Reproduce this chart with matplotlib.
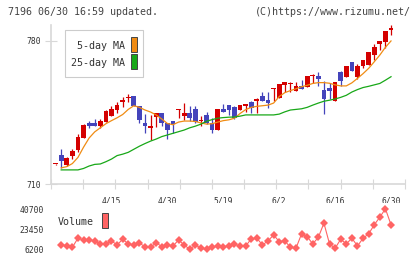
import numpy as np
import matplotlib
matplotlib.use("Agg")
import matplotlib.pyplot as plt
from matplotlib.patches import Rectangle

# ---- data ----
opens = [719.6, 724.2, 719.3, 723.7, 726.6, 732.7, 739.7, 739.7, 738.4, 740.5,
         743.4, 746.2, 750.0, 752.0, 753.1, 748.3, 739.7, 737.6, 742.7, 744.6,
         739.7, 740.8, 746.3, 743.4, 744.6, 746.7, 740.6, 743.8, 739.7, 736.4,
         746.7, 748.7, 747.7, 746.2, 748.4, 750.3, 750.8, 753.1, 751.1, 756.5,
         752.0, 758.6, 758.8, 755.7, 758.0, 757.6, 762.7, 762.9, 756.0, 757.0,
         750.8, 765.0, 762.5, 769.7, 762.5, 767.8, 768.3, 773.1, 778.5, 779.7,
         785.5]
closes = [719.9, 721.3, 722.9, 726.2, 733.2, 738.9, 738.4, 738.4, 740.8, 745.7,
          746.7, 748.7, 751.1, 752.5, 748.3, 741.3, 738.4, 738.0, 744.6, 739.7,
          736.4, 739.2, 746.6, 744.6, 742.2, 740.5, 741.0, 739.7, 736.4, 746.7,
          745.4, 746.2, 742.5, 748.7, 748.7, 747.4, 751.1, 750.8, 749.5, 756.8,
          759.0, 759.9, 759.1, 758.0, 756.7, 762.9, 763.0, 761.4, 751.6, 755.7,
          759.9, 760.6, 767.8, 765.5, 767.8, 770.7, 774.5, 777.2, 780.0, 784.9,
          785.8]
highs = [720.0, 727.1, 723.2, 727.1, 734.7, 739.2, 741.0, 742.0, 742.0, 746.3,
         748.3, 750.2, 752.8, 753.9, 753.2, 748.4, 744.1, 743.8, 744.8, 744.8,
         740.0, 741.0, 746.8, 749.4, 748.3, 748.0, 743.1, 745.0, 742.1, 746.8,
         749.0, 748.8, 748.0, 748.8, 748.8, 750.4, 752.1, 755.0, 755.0, 756.9,
         759.1, 760.0, 760.0, 759.9, 760.9, 763.0, 763.8, 764.7, 760.6, 759.3,
         760.0, 765.1, 767.9, 769.8, 768.8, 770.8, 774.6, 778.5, 780.1, 785.0,
         788.0]
lows = [719.5, 717.7, 719.0, 722.4, 725.9, 732.6, 737.4, 738.2, 737.5, 740.4,
        743.2, 744.5, 747.5, 750.0, 748.2, 739.7, 734.8, 731.5, 738.0, 738.2,
        731.9, 735.1, 742.5, 741.3, 741.0, 740.0, 738.2, 739.4, 734.8, 736.3,
        745.3, 744.0, 741.7, 746.1, 745.4, 744.6, 744.6, 750.7, 747.4, 750.8,
        751.9, 755.0, 755.0, 755.6, 756.6, 757.5, 759.3, 758.0, 744.3, 751.6,
        750.7, 758.0, 762.4, 765.4, 761.5, 766.6, 768.2, 770.6, 775.5, 776.5,
        782.9]

ma5 = [np.nan, 717.9, 718.5, 720.0, 723.0, 728.0, 732.5, 735.5, 737.5, 739.5,
       741.0, 742.4, 744.0, 746.5, 748.3, 747.5, 746.2, 745.2, 743.8, 741.8,
       739.6, 739.0, 740.3, 740.8, 740.8, 740.6, 739.9, 739.3, 739.5, 740.3,
       741.0, 741.4, 742.2, 744.5, 746.4, 747.5, 748.0, 748.3, 748.6, 749.6,
       752.8, 754.7, 755.7, 756.6, 757.6, 758.3, 759.2, 759.6, 759.6, 759.3,
       758.5, 758.0, 758.0, 759.5, 761.7, 764.0, 766.6, 769.8, 773.1, 776.9,
       780.0]
ma25 = [np.nan, 716.9, 716.9, 716.9, 716.9, 717.6, 718.8, 719.6, 719.8, 720.9,
        722.2, 723.9, 724.6, 725.5, 727.0, 728.5, 729.8, 731.0, 732.0, 733.2,
        734.0, 734.8, 735.6, 736.4, 737.5, 738.3, 739.3, 740.7, 741.5, 742.2,
        742.5, 742.7, 742.8, 743.2, 743.8, 743.8, 743.8, 743.8, 743.8, 743.8,
        744.2, 745.3, 746.2, 746.5, 746.8, 747.5, 748.6, 749.6, 750.5, 751.0,
        751.6, 752.4, 753.4, 755.0, 756.2, 757.2, 757.8, 758.5, 759.2, 760.8,
        762.5]

volume = [np.nan, 9900, 9300, 7900, 15700, 14200, 14200, 13400, 10800, 10800,
          13400, 9900, 14800, 10800, 9900, 11400, 8400, 7900, 11900, 8400,
          9900, 9000, 14200, 9900, 6200, 9900, 7100, 6200, 7900, 9000,
          8400, 9000, 10500, 9000, 9000, 15100, 15700, 9900, 13400, 18500,
          12800, 13400, 7900, 7100, 19400, 17100, 10800, 16500, 28600, 10800,
          7100, 14800, 10800, 15700, 9000, 15700, 19400, 27200, 33800, 40900,
          27200]

date_pos = [10, 20, 30, 40, 50, 60]
date_labels = ["4/15", "4/30", "5/19", "6/2", "6/16", "6/30"]
price_ticks = [710, 780]
vol_ticks = [6200, 23450, 40700]

# ---- style ----
W, H = 420, 259
RED = "#d40000"
BLUE = "#4444bb"
ORANGE = "#f08c14"
GREEN = "#18a818"
VOLC = "#ff6464"
AXC = "#d8d8d8"
TXT = "#333333"
MONO = "DejaVu Sans Mono"

def fx(x):
    return x / W

def fy(y):
    return 1 - y / H

fig = plt.figure(figsize=(W / 100, H / 100), dpi=100)
ax = fig.add_axes([fx(51), fy(184), 354 / W, 159 / H])
axv = fig.add_axes([fx(51), fy(253), 354 / W, 50 / H])

idx = np.arange(len(opens))
o = np.array(opens)
c = np.array(closes)
colors = [RED if cc >= oo else BLUE for oo, cc in zip(o, c)]
bottoms = np.minimum(o, c)
heights = np.maximum(np.abs(c - o), 0.6)

ax.vlines(idx, lows, highs, colors=colors, linewidth=0.9, zorder=3)
ax.bar(idx, heights, bottom=bottoms, width=0.85, color=colors, linewidth=0, zorder=4)
ax.plot(idx, ma5, color=ORANGE, lw=0.9, zorder=5)
ax.plot(idx, ma25, color=GREEN, lw=0.9, zorder=5)

xmin, xmax = -0.82, 62.5
ax.set_xlim(xmin, xmax)
ax.set_ylim(710, 787.8)
for s in ["top", "right"]:
    ax.spines[s].set_visible(False)
for s in ["left", "bottom"]:
    ax.spines[s].set_color(AXC)
    ax.spines[s].set_linewidth(1.2)

ax.set_yticks(price_ticks)
ax.set_yticklabels([str(t) for t in price_ticks], fontsize=5.8, family=MONO, color=TXT)
ax.tick_params(axis="y", direction="inout", length=8, width=0.8, color=AXC, pad=3)
ax.set_xticks(date_pos)
ax.set_xticklabels(date_labels, fontsize=5.8, family=MONO, color=TXT)
ax.tick_params(axis="x", which="major", length=0, pad=9)
ax.set_xticks(np.linspace(xmin, xmax, 12), minor=True)
ax.tick_params(axis="x", which="minor", direction="inout", length=7, width=0.8, color=AXC)

# volume panel
axv.plot(idx, volume, color=VOLC, lw=0.8, marker="D", markersize=4.2,
         markeredgewidth=0, zorder=3)
axv.set_xlim(xmin, xmax)
axv.set_ylim(3000, 45900)
for s in axv.spines.values():
    s.set_visible(False)
axv.set_xticks([])
axv.set_yticks(vol_ticks)
axv.set_yticklabels([str(t) for t in vol_ticks], fontsize=5.8, family=MONO, color=TXT)
axv.tick_params(axis="y", length=0, pad=5)

# header
fig.text(fx(8), fy(12), "7196 06/30 16:59 updated.", family=MONO, fontsize=7.2,
         color="#444444", ha="left", va="center")
fig.text(fx(411), fy(12), "(C)https://www.rizumu.net/", family=MONO, fontsize=7.2,
         color="#444444", ha="right", va="center")

# legend box
fig.patches.append(Rectangle((fx(65), fy(77)), 78 / W, 47 / H, transform=fig.transFigure,
                             facecolor="white", edgecolor="#cccccc", lw=0.8, zorder=10))
fig.text(fx(125), fy(46), "5-day MA", family=MONO, fontsize=7.2, color=TXT,
         ha="right", va="center", zorder=11)
fig.text(fx(125), fy(63), "25-day MA", family=MONO, fontsize=7.2, color=TXT,
         ha="right", va="center", zorder=11)
fig.patches.append(Rectangle((fx(131), fy(52)), 6 / W, 15 / H, transform=fig.transFigure,
                             facecolor=ORANGE, edgecolor="#444444", lw=0.7, zorder=11))
fig.patches.append(Rectangle((fx(131), fy(69)), 6 / W, 15 / H, transform=fig.transFigure,
                             facecolor=GREEN, edgecolor="#444444", lw=0.7, zorder=11))

fig.text(fx(58), fy(222), "Volume", family=MONO, fontsize=7.2, color=TXT,
         ha="left", va="center")
fig.patches.append(Rectangle((fx(102), fy(228)), 6 / W, 15 / H, transform=fig.transFigure,
                             facecolor=VOLC, edgecolor="#444444", lw=0.7, zorder=11))

fig.savefig("out.png", dpi=100)
